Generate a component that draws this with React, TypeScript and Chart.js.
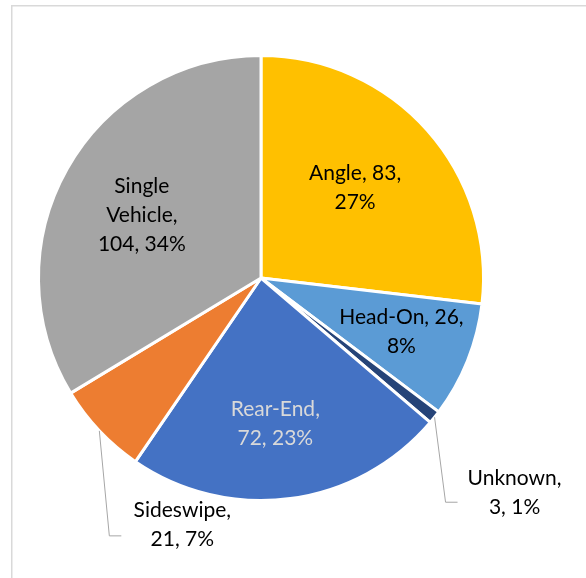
import { useEffect, useRef } from 'react';
import { Chart, registerables } from 'chart.js';

Chart.register(...registerables);

const categories = ['Angle', 'Head-On', 'Unknown', 'Rear-End', 'Sideswipe', 'Single Vehicle'];
const values = [83, 26, 3, 72, 21, 104];
const percents = ['27%', '8%', '1%', '23%', '7%', '34%'];
const sliceColors = ['#FFC000', '#5B9BD5', '#264478', '#4472C4', '#ED7D31', '#A5A5A5'];

// wrapped label text built from the data above
const labelLines: string[][] = [
  [`${categories[0]}, ${values[0]},`, percents[0]],
  [`${categories[1]}, ${values[1]},`, percents[1]],
  [`${categories[2]},`, `${values[2]}, ${percents[2]}`],
  [`${categories[3]},`, `${values[3]}, ${percents[3]}`],
  [`${categories[4]},`, `${values[4]}, ${percents[4]}`],
  ['Single', 'Vehicle,', `${values[5]}, ${percents[5]}`],
];

// label layout (style only)
type Inside = { kind: 'in'; frac: number; dx: number; dy: number; color: string };
type Outside = { kind: 'out'; ex: number; ey: number; tail: number; tx: number; ty: number; color: string };
const labelLayout: (Inside | Outside)[] = [
  { kind: 'in', frac: 0.59, dx: -4, dy: -3, color: '#000000' },
  { kind: 'in', frac: 0.68, dx: 0, dy: -3, color: '#000000' },
  { kind: 'out', ex: 11, ey: 85, tail: 12, tx: 57, ty: -9.5, color: '#000000' },
  { kind: 'in', frac: 0.66, dx: -5, dy: 0, color: '#D9D9D9' },
  { kind: 'out', ex: 10, ey: 105, tail: 12, tx: 61, ty: -11, color: '#000000' },
  { kind: 'in', frac: 0.62, dx: 1, dy: 5, color: '#000000' },
];

const FONT = '21px Lato, "Open Sans", sans-serif';
const LINE_H = 29;

const labelPlugin = {
  id: 'pieLabels',
  beforeDraw(chart: any) {
    const ctx = chart.ctx;
    ctx.save();
    ctx.strokeStyle = '#D9D9D9';
    ctx.lineWidth = 1.5;
    ctx.beginPath();
    ctx.moveTo(11.75, 700);
    ctx.lineTo(11.75, 5.75);
    ctx.lineTo(700, 5.75);
    ctx.stroke();
    ctx.restore();
  },
  afterDatasetsDraw(chart: any) {
    const ctx = chart.ctx;
    const arcs = chart.getDatasetMeta(0).data;
    ctx.save();
    ctx.font = FONT;
    ctx.textAlign = 'center';
    ctx.textBaseline = 'middle';
    arcs.forEach((arc: any, i: number) => {
      const { x, y, startAngle, endAngle, outerRadius } = arc.getProps(
        ['x', 'y', 'startAngle', 'endAngle', 'outerRadius'],
        true
      );
      const mid = (startAngle + endAngle) / 2;
      const lay = labelLayout[i];
      const lines = labelLines[i];
      let cx: number;
      let cy: number;
      if (lay.kind === 'in') {
        cx = x + Math.cos(mid) * outerRadius * lay.frac + lay.dx;
        cy = y + Math.sin(mid) * outerRadius * lay.frac + lay.dy;
      } else {
        const ax = x + Math.cos(mid) * outerRadius;
        const ay = y + Math.sin(mid) * outerRadius;
        const bx = ax + lay.ex;
        const by = ay + lay.ey;
        const endX = bx + lay.tail;
        ctx.strokeStyle = '#A6A6A6';
        ctx.lineWidth = 1;
        ctx.beginPath();
        ctx.moveTo(ax, ay);
        ctx.lineTo(bx, by);
        ctx.lineTo(endX, by);
        ctx.stroke();
        cx = endX + lay.tx;
        cy = by + lay.ty;
      }
      ctx.fillStyle = lay.color;
      lines.forEach((ln, k) => {
        ctx.fillText(ln, cx, cy + (k - (lines.length - 1) / 2) * LINE_H);
      });
    });
    ctx.restore();
  },
};

export default function App() {
  const ref = useRef<HTMLCanvasElement>(null);
  useEffect(() => {
    document.body.style.margin = '0';
    const chart = new Chart(ref.current!, {
      type: 'pie',
      data: {
        labels: categories,
        datasets: [
          {
            data: values,
            backgroundColor: sliceColors,
            borderColor: '#FFFFFF',
            borderWidth: 3,
          },
        ],
      },
      options: {
        animation: false,
        responsive: false,
        layout: { padding: { left: 37, right: 101, top: 54, bottom: 76 } },
        plugins: {
          legend: { display: false },
          tooltip: { enabled: false },
        },
      },
      plugins: [labelPlugin],
    });
    return () => chart.destroy();
  }, []);
  return (
    <div style={{ position: 'absolute', left: 0, top: 0, width: 586, height: 578, background: '#fff' }}>
      <canvas ref={ref} width={586} height={578} />
    </div>
  );
}
